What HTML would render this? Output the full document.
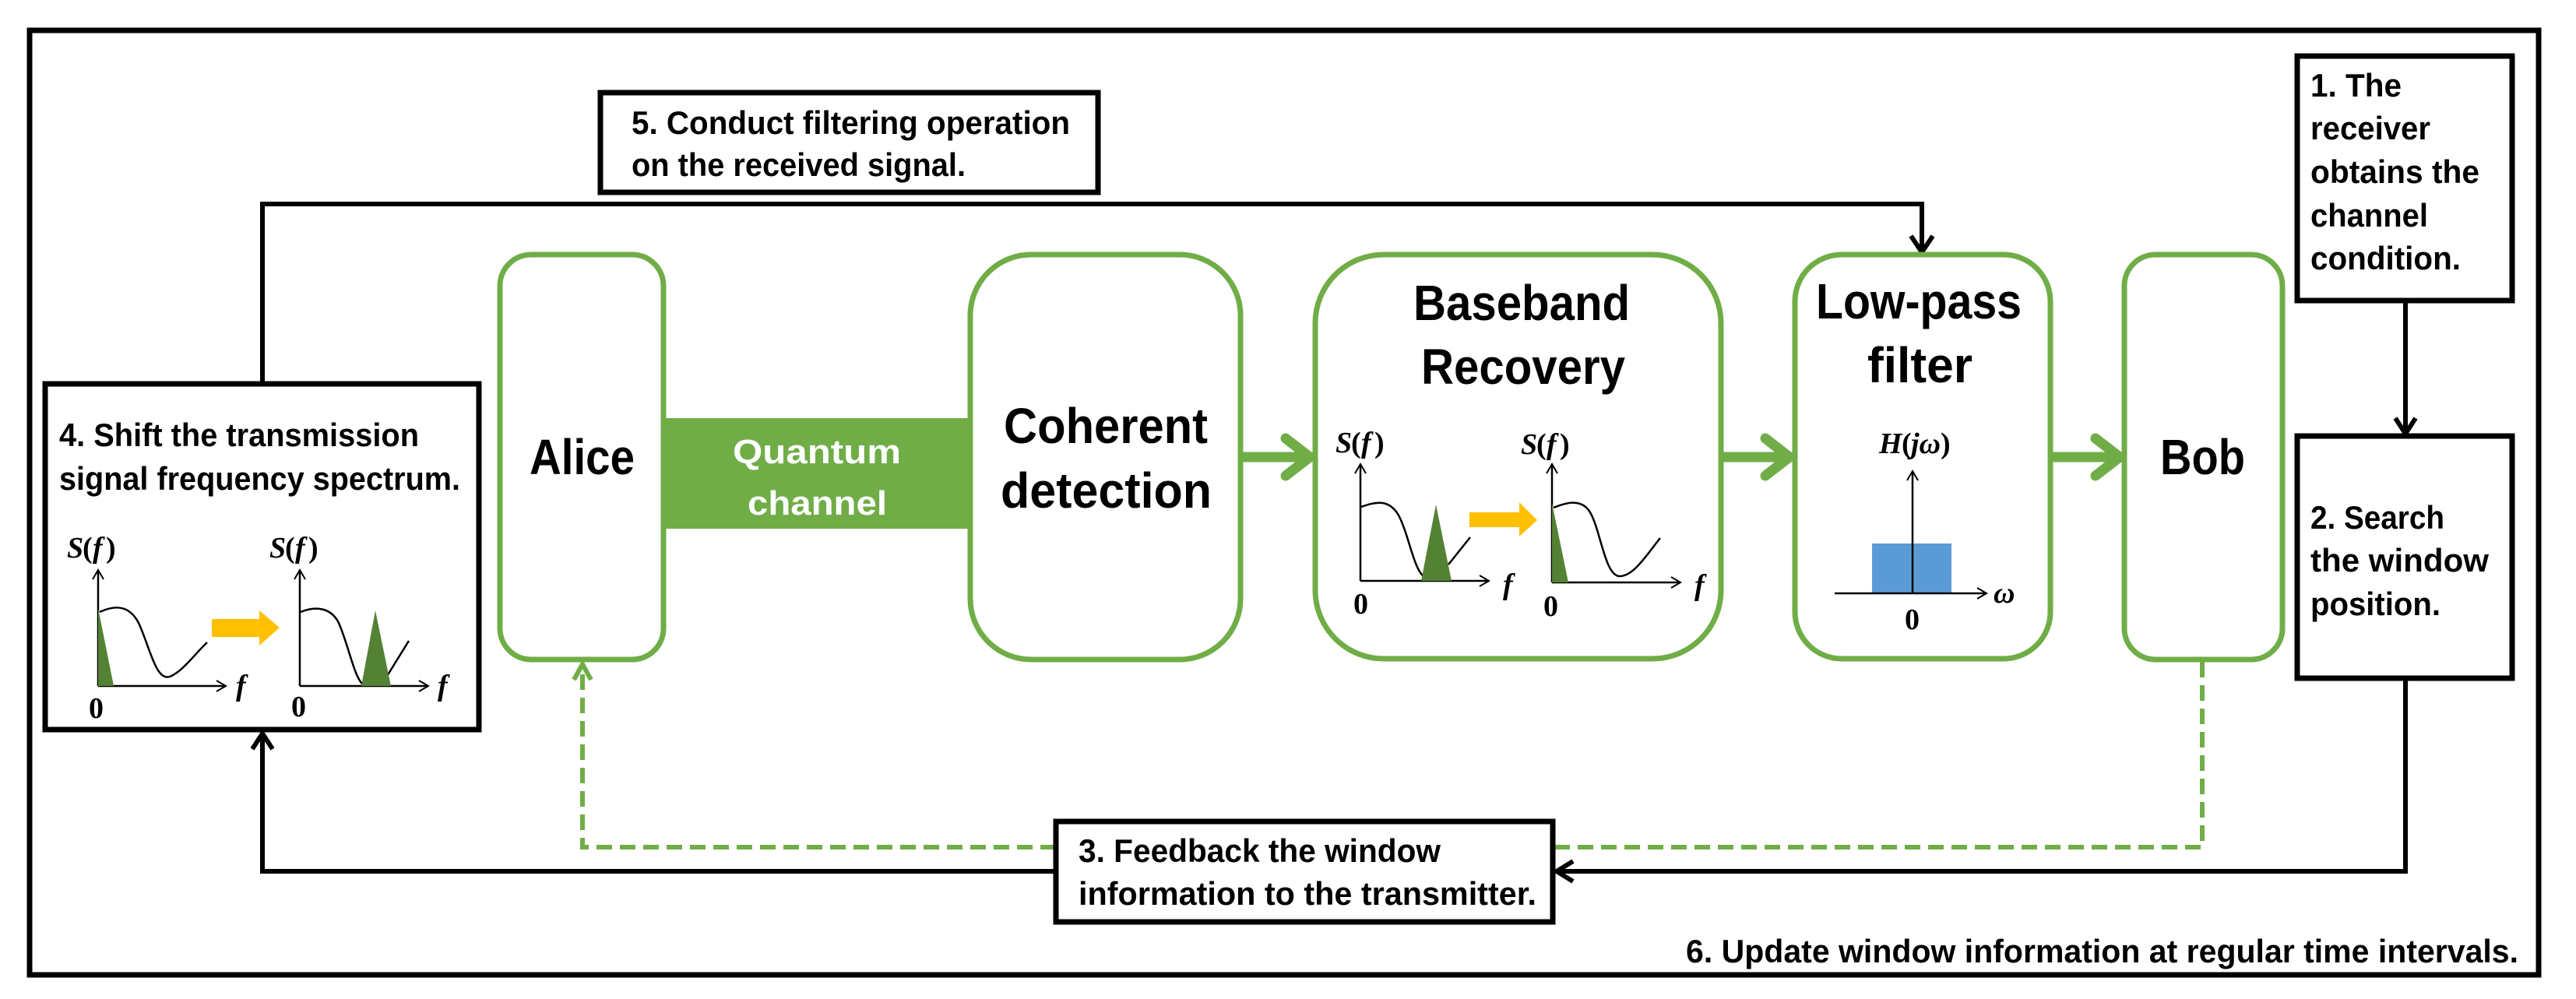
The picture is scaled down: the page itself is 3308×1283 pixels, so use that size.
<!DOCTYPE html>
<html><head><meta charset="utf-8"><style>html,body{margin:0;padding:0;background:#fff}svg{display:block}</style></head>
<body>
<svg width="3308" height="1283" viewBox="0 0 3308 1283" xmlns="http://www.w3.org/2000/svg">
<defs>
<style>
.t{font-family:"Liberation Sans Narrow","Liberation Sans",sans-serif;font-weight:bold;font-size:42px;fill:#000}
.b{font-family:"Liberation Sans Narrow","Liberation Sans",sans-serif;font-weight:bold;font-size:64px;fill:#000}
.m{font-family:"Liberation Serif",serif;font-style:italic;font-weight:bold;font-size:38px;fill:#000}
.z{font-family:"Liberation Serif",serif;font-weight:bold;font-size:38px;fill:#000}
</style>
</defs>
<rect width="3308" height="1283" fill="#fff"/>
<!-- outer -->
<rect x="38" y="39" width="3222" height="1213" fill="none" stroke="#000" stroke-width="7"/>

<!-- box5 -->
<rect x="771" y="119" width="639" height="128" fill="#fff" stroke="#000" stroke-width="7"/>
<text class="t" x="811" y="172" textLength="563" lengthAdjust="spacingAndGlyphs">5. Conduct filtering operation</text>
<text class="t" x="811" y="226" textLength="429" lengthAdjust="spacingAndGlyphs">on the received signal.</text>

<!-- black line box4 -> lowpass -->
<polyline points="337,493 337,262 2468,262 2468,322" fill="none" stroke="#000" stroke-width="6"/>
<polyline points="2454,303 2468,324 2482,303" fill="none" stroke="#000" stroke-width="6"/>

<!-- box4 -->
<rect x="58" y="493" width="557" height="444" fill="#fff" stroke="#000" stroke-width="7"/>
<text class="t" x="76" y="573" textLength="462" lengthAdjust="spacingAndGlyphs">4. Shift the transmission</text>
<text class="t" x="76" y="629" textLength="515" lengthAdjust="spacingAndGlyphs">signal frequency spectrum.</text>
<!-- chart 1 in box4 -->
<text class="m" x="86" y="716">S</text><text class="z" x="106" y="716" style="font-style:normal">(</text><text class="m" x="119" y="716">f</text><text class="z" x="136" y="716">)</text>
<line x1="126" y1="732" x2="126" y2="881" stroke="#000" stroke-width="2.5"/>
<polyline points="119,744 126,732 133,744" fill="none" stroke="#000" stroke-width="2"/>
<line x1="126" y1="881" x2="290" y2="881" stroke="#000" stroke-width="2.5"/>
<polyline points="278,874 290,881 278,888" fill="none" stroke="#000" stroke-width="2"/>
<polygon points="126,881 126,781 146,881" fill="#548235"/>
<path d="M128,786 C145,778 165,775 178,800 C192,830 200,875 218,869 C235,862 250,840 266,825" fill="none" stroke="#000" stroke-width="2.5"/>
<polygon points="272,795 333,795 333,784 359,806 333,829 333,818 272,818" fill="#FFC000"/>
<text class="m" x="303" y="893">f</text>
<text class="z" x="114" y="922">0</text>
<!-- chart 2 in box4 -->
<text class="m" x="346" y="716">S</text><text class="z" x="366" y="716">(</text><text class="m" x="379" y="716">f</text><text class="z" x="396" y="716">)</text>
<line x1="385" y1="732" x2="385" y2="881" stroke="#000" stroke-width="2.5"/>
<polyline points="378,744 385,732 392,744" fill="none" stroke="#000" stroke-width="2"/>
<line x1="385" y1="881" x2="550" y2="881" stroke="#000" stroke-width="2.5"/>
<polyline points="538,874 550,881 538,888" fill="none" stroke="#000" stroke-width="2"/>
<path d="M386,786 C405,778 425,780 435,800 C448,830 455,870 466,879" fill="none" stroke="#000" stroke-width="2.5"/>
<line x1="496" y1="870" x2="525" y2="823" stroke="#000" stroke-width="2.5"/>
<polygon points="464,881 482,784 502,881" fill="#548235"/>
<text class="m" x="562" y="893">f</text>
<text class="z" x="374" y="920">0</text>

<!-- Alice -->
<rect x="642" y="327" width="210" height="520" rx="40" fill="#fff" stroke="#70AD47" stroke-width="7"/>
<text class="b" x="680" y="609" textLength="135" lengthAdjust="spacingAndGlyphs">Alice</text>
<!-- quantum channel -->
<rect x="852" y="537" width="394" height="142" fill="#70AD47"/>
<text class="t" x="941" y="595" style="fill:#fff;font-size:44px" textLength="216" lengthAdjust="spacingAndGlyphs">Quantum</text>
<text class="t" x="960" y="661" style="fill:#fff;font-size:44px" textLength="179" lengthAdjust="spacingAndGlyphs">channel</text>
<!-- Coherent -->
<rect x="1246" y="327" width="347" height="520" rx="78" fill="#fff" stroke="#70AD47" stroke-width="7"/>
<text class="b" x="1289" y="569" textLength="262" lengthAdjust="spacingAndGlyphs">Coherent</text>
<text class="b" x="1285" y="652" textLength="271" lengthAdjust="spacingAndGlyphs">detection</text>

<!-- green arrows -->
<g stroke="#70AD47" stroke-width="13" fill="none" stroke-linecap="round" stroke-linejoin="round">
<line x1="1596" y1="587" x2="1682" y2="587"/><polyline points="1651,563 1682,587 1651,611"/>
<line x1="2213" y1="587" x2="2298" y2="587"/><polyline points="2267,563 2298,587 2267,611"/>
<line x1="2636" y1="587" x2="2722" y2="587"/><polyline points="2691,563 2722,587 2691,611"/>
</g>

<!-- Baseband -->
<rect x="1689" y="327" width="521" height="519" rx="88" fill="#fff" stroke="#70AD47" stroke-width="7"/>
<text class="b" x="1815" y="411" textLength="278" lengthAdjust="spacingAndGlyphs">Baseband</text>
<text class="b" x="1825" y="493" textLength="262" lengthAdjust="spacingAndGlyphs">Recovery</text>
<!-- chart a -->
<text class="m" x="1715" y="581">S</text><text class="z" x="1735" y="581">(</text><text class="m" x="1748" y="581">f</text><text class="z" x="1765" y="581">)</text>
<line x1="1747" y1="596" x2="1747" y2="746" stroke="#000" stroke-width="2.5"/>
<polyline points="1740,608 1747,596 1754,608" fill="none" stroke="#000" stroke-width="2"/>
<line x1="1747" y1="746" x2="1912" y2="746" stroke="#000" stroke-width="2.5"/>
<polyline points="1900,739 1912,746 1900,753" fill="none" stroke="#000" stroke-width="2"/>
<path d="M1748,651 C1765,645 1782,640 1795,660 C1808,682 1815,730 1828,740" fill="none" stroke="#000" stroke-width="2.5"/>
<line x1="1860" y1="725" x2="1888" y2="690" stroke="#000" stroke-width="2.5"/>
<polygon points="1825,746 1844,648 1864,746" fill="#548235"/>
<polygon points="1887,658 1951,658 1951,645 1974,668 1951,689 1951,677 1887,677" fill="#FFC000"/>
<text class="m" x="1930" y="763">f</text>
<text class="z" x="1738" y="788">0</text>
<!-- chart b -->
<text class="m" x="1953" y="583">S</text><text class="z" x="1973" y="583">(</text><text class="m" x="1986" y="583">f</text><text class="z" x="2003" y="583">)</text>
<line x1="1993" y1="596" x2="1993" y2="748" stroke="#000" stroke-width="2.5"/>
<polyline points="1986,608 1993,596 2000,608" fill="none" stroke="#000" stroke-width="2"/>
<line x1="1993" y1="748" x2="2158" y2="748" stroke="#000" stroke-width="2.5"/>
<polyline points="2146,741 2158,748 2146,755" fill="none" stroke="#000" stroke-width="2"/>
<path d="M1995,652 C2010,646 2028,640 2040,655 C2055,675 2060,740 2080,740 C2098,740 2115,712 2132,691" fill="none" stroke="#000" stroke-width="2.5"/>
<polygon points="1993,748 1993,646 2014,748" fill="#548235"/>
<text class="m" x="2176" y="764">f</text>
<text class="z" x="1982" y="791">0</text>

<!-- Low-pass -->
<rect x="2305" y="327" width="328" height="519" rx="60" fill="#fff" stroke="#70AD47" stroke-width="7"/>
<text class="b" x="2332" y="409" textLength="264" lengthAdjust="spacingAndGlyphs">Low-pass</text>
<text class="b" x="2398" y="491" textLength="135" lengthAdjust="spacingAndGlyphs">filter</text>
<text class="m" x="2413" y="582">H</text><text class="z" x="2442" y="582">(</text><text class="m" x="2454" y="582">jω</text><text class="z" x="2492" y="582">)</text>
<rect x="2404" y="698" width="102" height="64" fill="#5B9BD5"/>
<line x1="2456" y1="605" x2="2456" y2="762" stroke="#000" stroke-width="2.5"/>
<polyline points="2449,617 2456,605 2463,617" fill="none" stroke="#000" stroke-width="2"/>
<line x1="2356" y1="762" x2="2551" y2="762" stroke="#000" stroke-width="2.5"/>
<polyline points="2539,755 2551,762 2539,769" fill="none" stroke="#000" stroke-width="2"/>
<text class="m" x="2560" y="774">ω</text>
<text class="z" x="2446" y="808">0</text>

<!-- Bob -->
<rect x="2728" y="327" width="203" height="520" rx="40" fill="#fff" stroke="#70AD47" stroke-width="7"/>
<text class="b" x="2774" y="609" textLength="109" lengthAdjust="spacingAndGlyphs">Bob</text>

<!-- dashed feedback -->
<g stroke="#70AD47" stroke-width="6" fill="none" stroke-dasharray="20,10">
<polyline points="2828,850 2828,1088 1997,1088"/>
<polyline points="1356,1088 748,1088 748,856"/>
</g>
<polyline points="737,873 748,853 759,873" fill="none" stroke="#70AD47" stroke-width="6"/>

<!-- black bottom line -->
<polyline points="3089,871 3089,1119 2000,1119" fill="none" stroke="#000" stroke-width="6"/>
<polyline points="2020,1106 1999,1119 2020,1132" fill="none" stroke="#000" stroke-width="6"/>
<polyline points="1356,1119 337,1119 337,943" fill="none" stroke="#000" stroke-width="6"/>
<polyline points="324,962 337,942 350,962" fill="none" stroke="#000" stroke-width="6"/>

<!-- box3 -->
<rect x="1356" y="1055" width="638" height="129" fill="#fff" stroke="#000" stroke-width="7"/>
<text class="t" x="1385" y="1107" textLength="465" lengthAdjust="spacingAndGlyphs">3. Feedback the window</text>
<text class="t" x="1385" y="1162" textLength="588" lengthAdjust="spacingAndGlyphs">information to the transmitter.</text>

<!-- box1 -->
<rect x="2950" y="72" width="276" height="314" fill="#fff" stroke="#000" stroke-width="7"/>
<text class="t" x="2967" y="124" textLength="117" lengthAdjust="spacingAndGlyphs">1. The</text>
<text class="t" x="2967" y="179" textLength="154" lengthAdjust="spacingAndGlyphs">receiver</text>
<text class="t" x="2967" y="235" textLength="217" lengthAdjust="spacingAndGlyphs">obtains the</text>
<text class="t" x="2967" y="291" textLength="151" lengthAdjust="spacingAndGlyphs">channel</text>
<text class="t" x="2967" y="346" textLength="193" lengthAdjust="spacingAndGlyphs">condition.</text>
<line x1="3089" y1="386" x2="3089" y2="556" stroke="#000" stroke-width="6"/>
<polyline points="3076,537 3089,557 3102,537" fill="none" stroke="#000" stroke-width="6"/>

<!-- box2 -->
<rect x="2950" y="560" width="276" height="311" fill="#fff" stroke="#000" stroke-width="7"/>
<text class="t" x="2967" y="679" textLength="172" lengthAdjust="spacingAndGlyphs">2. Search</text>
<text class="t" x="2967" y="734" textLength="229" lengthAdjust="spacingAndGlyphs">the window</text>
<text class="t" x="2967" y="790" textLength="167" lengthAdjust="spacingAndGlyphs">position.</text>

<text class="t" x="2165" y="1236" textLength="1069" lengthAdjust="spacingAndGlyphs">6. Update window information at regular time intervals.</text>
</svg>
</body></html>
